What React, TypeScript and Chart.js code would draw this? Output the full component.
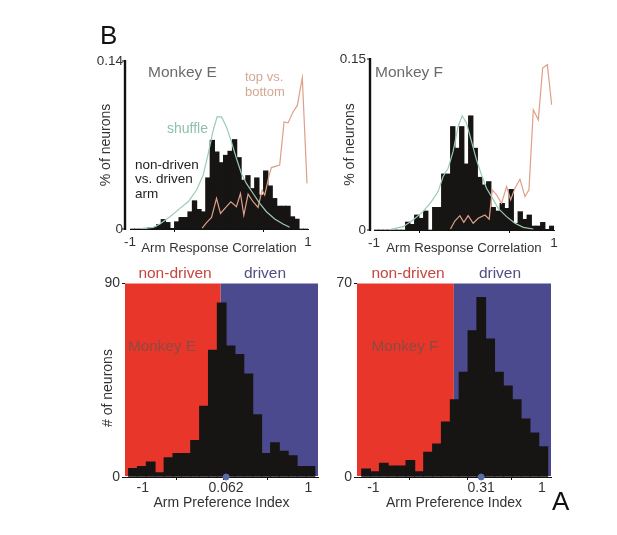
import { useEffect, useRef } from 'react';
import { Chart, registerables } from 'chart.js';

Chart.register(...registerables);

// bin centres of the correlation histograms
const corrBins = [
  -0.975, -0.925, -0.875, -0.825, -0.775, -0.725, -0.675, -0.625, -0.575, -0.525,
  -0.475, -0.425, -0.375, -0.325, -0.275, -0.225, -0.175, -0.125, -0.075, -0.025,
  0.025, 0.075, 0.125, 0.175, 0.225, 0.275, 0.325, 0.375, 0.425, 0.475,
  0.525, 0.575, 0.625, 0.675, 0.725, 0.775, 0.825, 0.875, 0.925, 0.975,
];
const corrE = [
  0, 0, 0, 0, 0.0011, 0.0014, 0.0039, 0.008, 0.0055, 0.0006,
  0.0061, 0.0097, 0.0097, 0.0144, 0.0236, 0.0164, 0.0144, 0.0427, 0.074, 0.0643,
  0.0554, 0.0615, 0.0649, 0.0746, 0.0596, 0.0408, 0.0446, 0.0338, 0.0427, 0.0283,
  0.0485, 0.036, 0.0255, 0.0191, 0.0191, 0.0191, 0.0103, 0.0083, 0, 0,
];
const corrF = [
  0, 0, 0, 0, 0, 0, 0, 0.007, 0.005, 0.0132,
  0.0103, 0.0167, 0, 0.0199, 0.0199, 0.0492, 0.0492, 0.0908, 0.0718, 0.0908,
  0.058, 0.1002, 0.0718, 0.0463, 0.0396, 0.0425, 0.0199, 0.0167, 0.0234, 0.019,
  0.0357, 0.0059, 0.0161, 0.0094, 0.0132, 0.0035, 0.0035, 0.0067, 0.0006, 0.0035,
];

const shuffleEx = [-0.888, -0.738, -0.664, -0.551, -0.439, -0.346, -0.252, -0.178, -0.121, -0.065, -0.021, 0.028, 0.084, 0.14, 0.196, 0.252, 0.308, 0.383, 0.458, 0.533, 0.626, 0.72, 0.794];
const shuffleEy = [0.0003, 0.0014, 0.0042, 0.0102, 0.0172, 0.0227, 0.0325, 0.0449, 0.0629, 0.0823, 0.0934, 0.0934, 0.085, 0.0726, 0.0587, 0.0463, 0.038, 0.0296, 0.0213, 0.0144, 0.0083, 0.0042, 0.0014];
const topBottomEx = [-0.189, -0.14, -0.084, -0.028, 0.017, 0.084, 0.133, 0.196, 0.241, 0.279, 0.327, 0.383, 0.439, 0.484, 0.514, 0.559, 0.589, 0.682, 0.731, 0.776, 0.832, 0.88, 0.936, 0.989];
const topBottomEy = [0.0008, 0.0053, 0.0097, 0.0255, 0.013, 0.0186, 0.0227, 0.0186, 0.0296, 0.0116, 0.0291, 0.0227, 0.018, 0.0324, 0.0283, 0.0435, 0.0512, 0.0532, 0.0892, 0.0884, 0.0975, 0.103, 0.126, 0.038];

const shuffleFx = [-0.826, -0.677, -0.566, -0.455, -0.362, -0.288, -0.232, -0.176, -0.121, -0.065, -0.02, 0.028, 0.083, 0.139, 0.195, 0.25, 0.306, 0.38, 0.473, 0.566, 0.659, 0.77];
const shuffleFy = [0.0003, 0.0029, 0.0088, 0.0161, 0.0249, 0.0337, 0.0469, 0.0542, 0.0689, 0.0908, 0.1002, 0.0938, 0.0777, 0.0615, 0.0483, 0.0366, 0.0293, 0.019, 0.0117, 0.0059, 0.0023, 0.0009];
const topBottomFx = [-0.15, -0.102, -0.046, -0.002, 0.046, 0.102, 0.158, 0.232, 0.28, 0.314, 0.362, 0.417, 0.473, 0.518, 0.566, 0.622, 0.677, 0.722, 0.77, 0.826, 0.874, 0.926, 0.974];
const topBottomFy = [0.0009, 0.0079, 0.0126, 0.0067, 0.0126, 0.0059, 0.0103, 0.0132, 0.0094, 0.0352, 0.0308, 0.0234, 0.0381, 0.0264, 0.0366, 0.0445, 0.0293, 0.0352, 0.1055, 0.0967, 0.1421, 0.145, 0.1099];

const prefBinsE = [-1, -0.899, -0.798, -0.696, -0.595, -0.494, -0.393, -0.292, -0.19, -0.089, 0.012, 0.113, 0.214, 0.316, 0.417, 0.518, 0.619, 0.72, 0.822, 0.923, 1.024];
const prefE = [4, 5, 7, 2, 9, 11, 11, 17, 33, 59, 81, 61, 57, 48, 29, 11, 16, 12, 10, 5, 5];
const prefBinsF = [-0.995, -0.895, -0.794, -0.694, -0.593, -0.493, -0.392, -0.292, -0.191, -0.091, 0.01, 0.11, 0.211, 0.311, 0.412, 0.512, 0.613, 0.713, 0.814, 0.914, 1.015];
const prefF = [3, 2, 5, 4, 4, 6, 2, 9, 12, 20, 28, 38, 53, 65, 50, 38, 33, 28, 21, 16, 11];

const medianE = 0.062;
const medianF = 0.31;

const FONT = '"Liberation Sans", Arial, sans-serif';
const BLACK = '#171513';
const GREEN = '#9cc9b4';
const ORANGE = '#df9f88';

type Txt = { t: string; x: number; y: number; c: string; s: number; a?: CanvasTextAlign };

const pts = (xs: number[], ys: number[]) => xs.map((x, i) => ({ x, y: ys[i] }));

const hist = (xs: number[], ys: number[], thickness: number) => ({
  type: 'bar' as const,
  data: pts(xs, ys),
  backgroundColor: BLACK,
  barThickness: thickness,
  order: 2,
});

const curve = (xs: number[], ys: number[], color: string) => ({
  type: 'line' as const,
  data: pts(xs, ys),
  borderColor: color,
  borderWidth: 1.2,
  pointRadius: 0,
  order: 1,
});

const dot = (x: number) => ({
  type: 'line' as const,
  data: [{ x, y: 0 }],
  backgroundColor: '#5a6ca6',
  borderColor: '#5a6ca6',
  pointRadius: 3,
  showLine: false,
  clip: false,
  order: 0,
});

type PanelProps = {
  box: number[]; // left, top, right, bottom of the plot
  xMin: number;
  xMax: number;
  yMax: number;
  xTicks: number[];
  xLabels: string[];
  yLabels: string[];
  xTitle: string;
  xTitlePad: number;
  xTickPad: number;
  yTitle?: string;
  yTitlePad?: number;
  yTickPad: number;
  tickSize: number;
  titleSize: number;
  yLineGap?: number; // detached y axis on the top panels
  split?: boolean;
  datasets: any[];
  texts: Txt[];
};

const Panel = (p: PanelProps) => {
  const ref = useRef<HTMLCanvasElement | null>(null);

  useEffect(() => {
    if (!ref.current) return;
    const [l, t, r, b] = p.box;
    const deco = {
      id: 'deco',
      beforeDatasetsDraw(chart: any) {
        if (!p.split) return;
        const { ctx, chartArea: a, scales } = chart;
        const sx = scales.x.getPixelForValue(0);
        const h = a.height - 1; // leave the x axis line visible
        ctx.save();
        ctx.fillStyle = '#e8362b';
        ctx.fillRect(a.left, a.top, sx - a.left, h);
        ctx.fillStyle = '#4c4a8e';
        ctx.fillRect(sx, a.top, a.right - sx, h);
        ctx.restore();
      },
      afterDraw(chart: any) {
        const { ctx, chartArea: a } = chart;
        ctx.save();
        if (p.yLineGap) {
          const lx = a.left - p.yLineGap;
          ctx.strokeStyle = '#111';
          ctx.lineWidth = 2.4;
          ctx.beginPath();
          ctx.moveTo(lx, a.top - 1);
          ctx.lineTo(lx, a.bottom + 1);
          ctx.stroke();
          ctx.lineWidth = 1;
          ctx.beginPath();
          ctx.moveTo(lx - 3, a.top);
          ctx.lineTo(lx, a.top);
          ctx.moveTo(lx - 3, a.bottom);
          ctx.lineTo(lx, a.bottom);
          ctx.stroke();
        }
        ctx.textBaseline = 'middle';
        p.texts.forEach((x) => {
          ctx.font = `${x.s}px ${FONT}`;
          ctx.fillStyle = x.c;
          ctx.textAlign = x.a || 'left';
          ctx.fillText(x.t, x.x, x.y);
        });
        ctx.restore();
      },
    };

    const chart = new Chart(ref.current, {
      type: 'bar',
      data: { datasets: p.datasets },
      options: {
        animation: false,
        responsive: false,
        layout: { padding: { left: l - 60, top: t, right: 617 - r, bottom: 535 - b - 40 } },
        plugins: { legend: { display: false }, tooltip: { enabled: false } },
        scales: {
          x: {
            type: 'linear',
            offset: false,
            min: p.xMin,
            max: p.xMax,
            afterFit: (s: any) => { s.height = 40; },
            afterBuildTicks: (s: any) => { s.ticks = p.xTicks.map((value) => ({ value })); },
            grid: { drawOnChartArea: false, drawTicks: true, tickLength: 3, color: '#111' },
            border: { display: true, color: '#111', width: 1 },
            ticks: {
              autoSkip: false,
              maxRotation: 0,
              padding: p.xTickPad,
              color: '#333',
              font: { family: FONT, size: p.tickSize },
              callback: (_v: any, i: number) => p.xLabels[i],
            },
            title: {
              display: true,
              text: p.xTitle,
              color: '#333',
              font: { family: FONT, size: p.titleSize },
              padding: { top: 0, bottom: p.xTitlePad },
            },
          },
          y: {
            min: 0,
            max: p.yMax,
            afterFit: (s: any) => { s.width = 60; },
            afterBuildTicks: (s: any) => { s.ticks = [{ value: 0 }, { value: p.yMax }]; },
            grid: p.yLineGap
              ? { display: false, drawTicks: false }
              : { drawOnChartArea: false, drawTicks: true, tickLength: 3, color: '#111' },
            border: { display: false },
            ticks: {
              padding: p.yTickPad,
              color: '#333',
              font: { family: FONT, size: p.tickSize },
              callback: (_v: any, i: number) => p.yLabels[i],
            },
            title: {
              display: !!p.yTitle,
              text: p.yTitle,
              color: '#333',
              font: { family: FONT, size: 14 },
              padding: { top: p.yTitlePad ?? 0, bottom: 0 },
            },
          },
        },
      } as any,
      plugins: [deco],
    });
    return () => chart.destroy();
  }, []);

  return (
    <canvas
      ref={ref}
      width={617}
      height={535}
      style={{ position: 'absolute', left: 0, top: 0, width: 617, height: 535 }}
    />
  );
};

const App = () => (
  <div style={{ position: 'absolute', left: 0, top: 0, width: 617, height: 535, background: '#fff' }}>
    <Panel
      box={[130, 61, 308, 229]}
      xMin={-1}
      xMax={1}
      yMax={0.14}
      xTicks={[-1, 0, 1]}
      xLabels={['-1', '', '1']}
      yLabels={['0', '0.14']}
      xTitle="Arm Response Correlation"
      xTitlePad={13}
      xTickPad={2}
      yTitle="% of neurons"
      yTitlePad={27.6}
      yTickPad={7}
      tickSize={13.5}
      titleSize={13.2}
      yLineGap={5}
      datasets={[hist(corrBins, corrE, 4.7), curve(shuffleEx, shuffleEy, GREEN), curve(topBottomEx, topBottomEy, ORANGE)]}
      texts={[
        { t: 'B', x: 100, y: 37, c: '#111', s: 26 },
        { t: 'Monkey E', x: 148, y: 73, c: '#6a6a6a', s: 15.5 },
        { t: 'top vs.', x: 245, y: 77, c: '#d3a893', s: 13 },
        { t: 'bottom', x: 245, y: 92, c: '#d3a893', s: 13 },
        { t: 'shuffle', x: 167, y: 129, c: '#8fc0a8', s: 14 },
        { t: 'non-driven', x: 135, y: 165, c: '#222', s: 13.5 },
        { t: 'vs. driven', x: 135, y: 179, c: '#222', s: 13.5 },
        { t: 'arm', x: 135, y: 194, c: '#222', s: 13.5 },
      ]}
    />
    <Panel
      box={[374, 59, 554, 230]}
      xMin={-1}
      xMax={1}
      yMax={0.15}
      xTicks={[-1, 0, 1]}
      xLabels={['-1', '', '1']}
      yLabels={['0', '0.15']}
      xTitle="Arm Response Correlation"
      xTitlePad={14}
      xTickPad={2}
      yTitle="% of neurons"
      yTitlePad={27.6}
      yTickPad={8}
      tickSize={13.5}
      titleSize={13.2}
      yLineGap={4}
      datasets={[hist(corrBins, corrF, 4.7), curve(shuffleFx, shuffleFy, GREEN), curve(topBottomFx, topBottomFy, ORANGE)]}
      texts={[{ t: 'Monkey F', x: 375, y: 73, c: '#6a6a6a', s: 15.5 }]}
    />
    <Panel
      box={[125, 283.5, 318, 477]}
      xMin={-1.091}
      xMax={1.11}
      yMax={90}
      xTicks={[-1, 0, medianE, 1]}
      xLabels={['     -1', '', '0.062', '1']}
      yLabels={['0', '90']}
      xTitle="Arm Preference Index"
      xTitlePad={5.6}
      xTickPad={0}
      yTitle="# of neurons    "
      yTitlePad={34.6}
      yTickPad={2}
      tickSize={14}
      titleSize={14}
      split
      datasets={[hist(prefBinsE, prefE, 9.1), dot(medianE)]}
      texts={[
        { t: 'non-driven', x: 175, y: 274, c: '#c8443e', s: 15.5, a: 'center' },
        { t: 'driven', x: 265, y: 274, c: '#4f4f85', s: 15.5, a: 'center' },
        { t: 'Monkey E', x: 162, y: 347, c: '#8c4b42', s: 15.3, a: 'center' },
      ]}
    />
    <Panel
      box={[357, 283.5, 551, 477]}
      xMin={-1.098}
      xMax={1.102}
      yMax={70}
      xTicks={[-1, 0, medianF, 1]}
      xLabels={['    -1', '', '0.31', '1']}
      yLabels={['0', '70']}
      xTitle="Arm Preference Index"
      xTitlePad={5.6}
      xTickPad={0}
      yTickPad={2}
      tickSize={14}
      titleSize={14}
      split
      datasets={[hist(prefBinsF, prefF, 9.1), dot(medianF)]}
      texts={[
        { t: 'non-driven', x: 408, y: 274, c: '#c8443e', s: 15.5, a: 'center' },
        { t: 'driven', x: 500, y: 274, c: '#4f4f85', s: 15.5, a: 'center' },
        { t: 'Monkey F', x: 405, y: 347, c: '#8c4b42', s: 15.3, a: 'center' },
        { t: 'A', x: 552, y: 503, c: '#111', s: 26 },
      ]}
    />
  </div>
);

export default App;
